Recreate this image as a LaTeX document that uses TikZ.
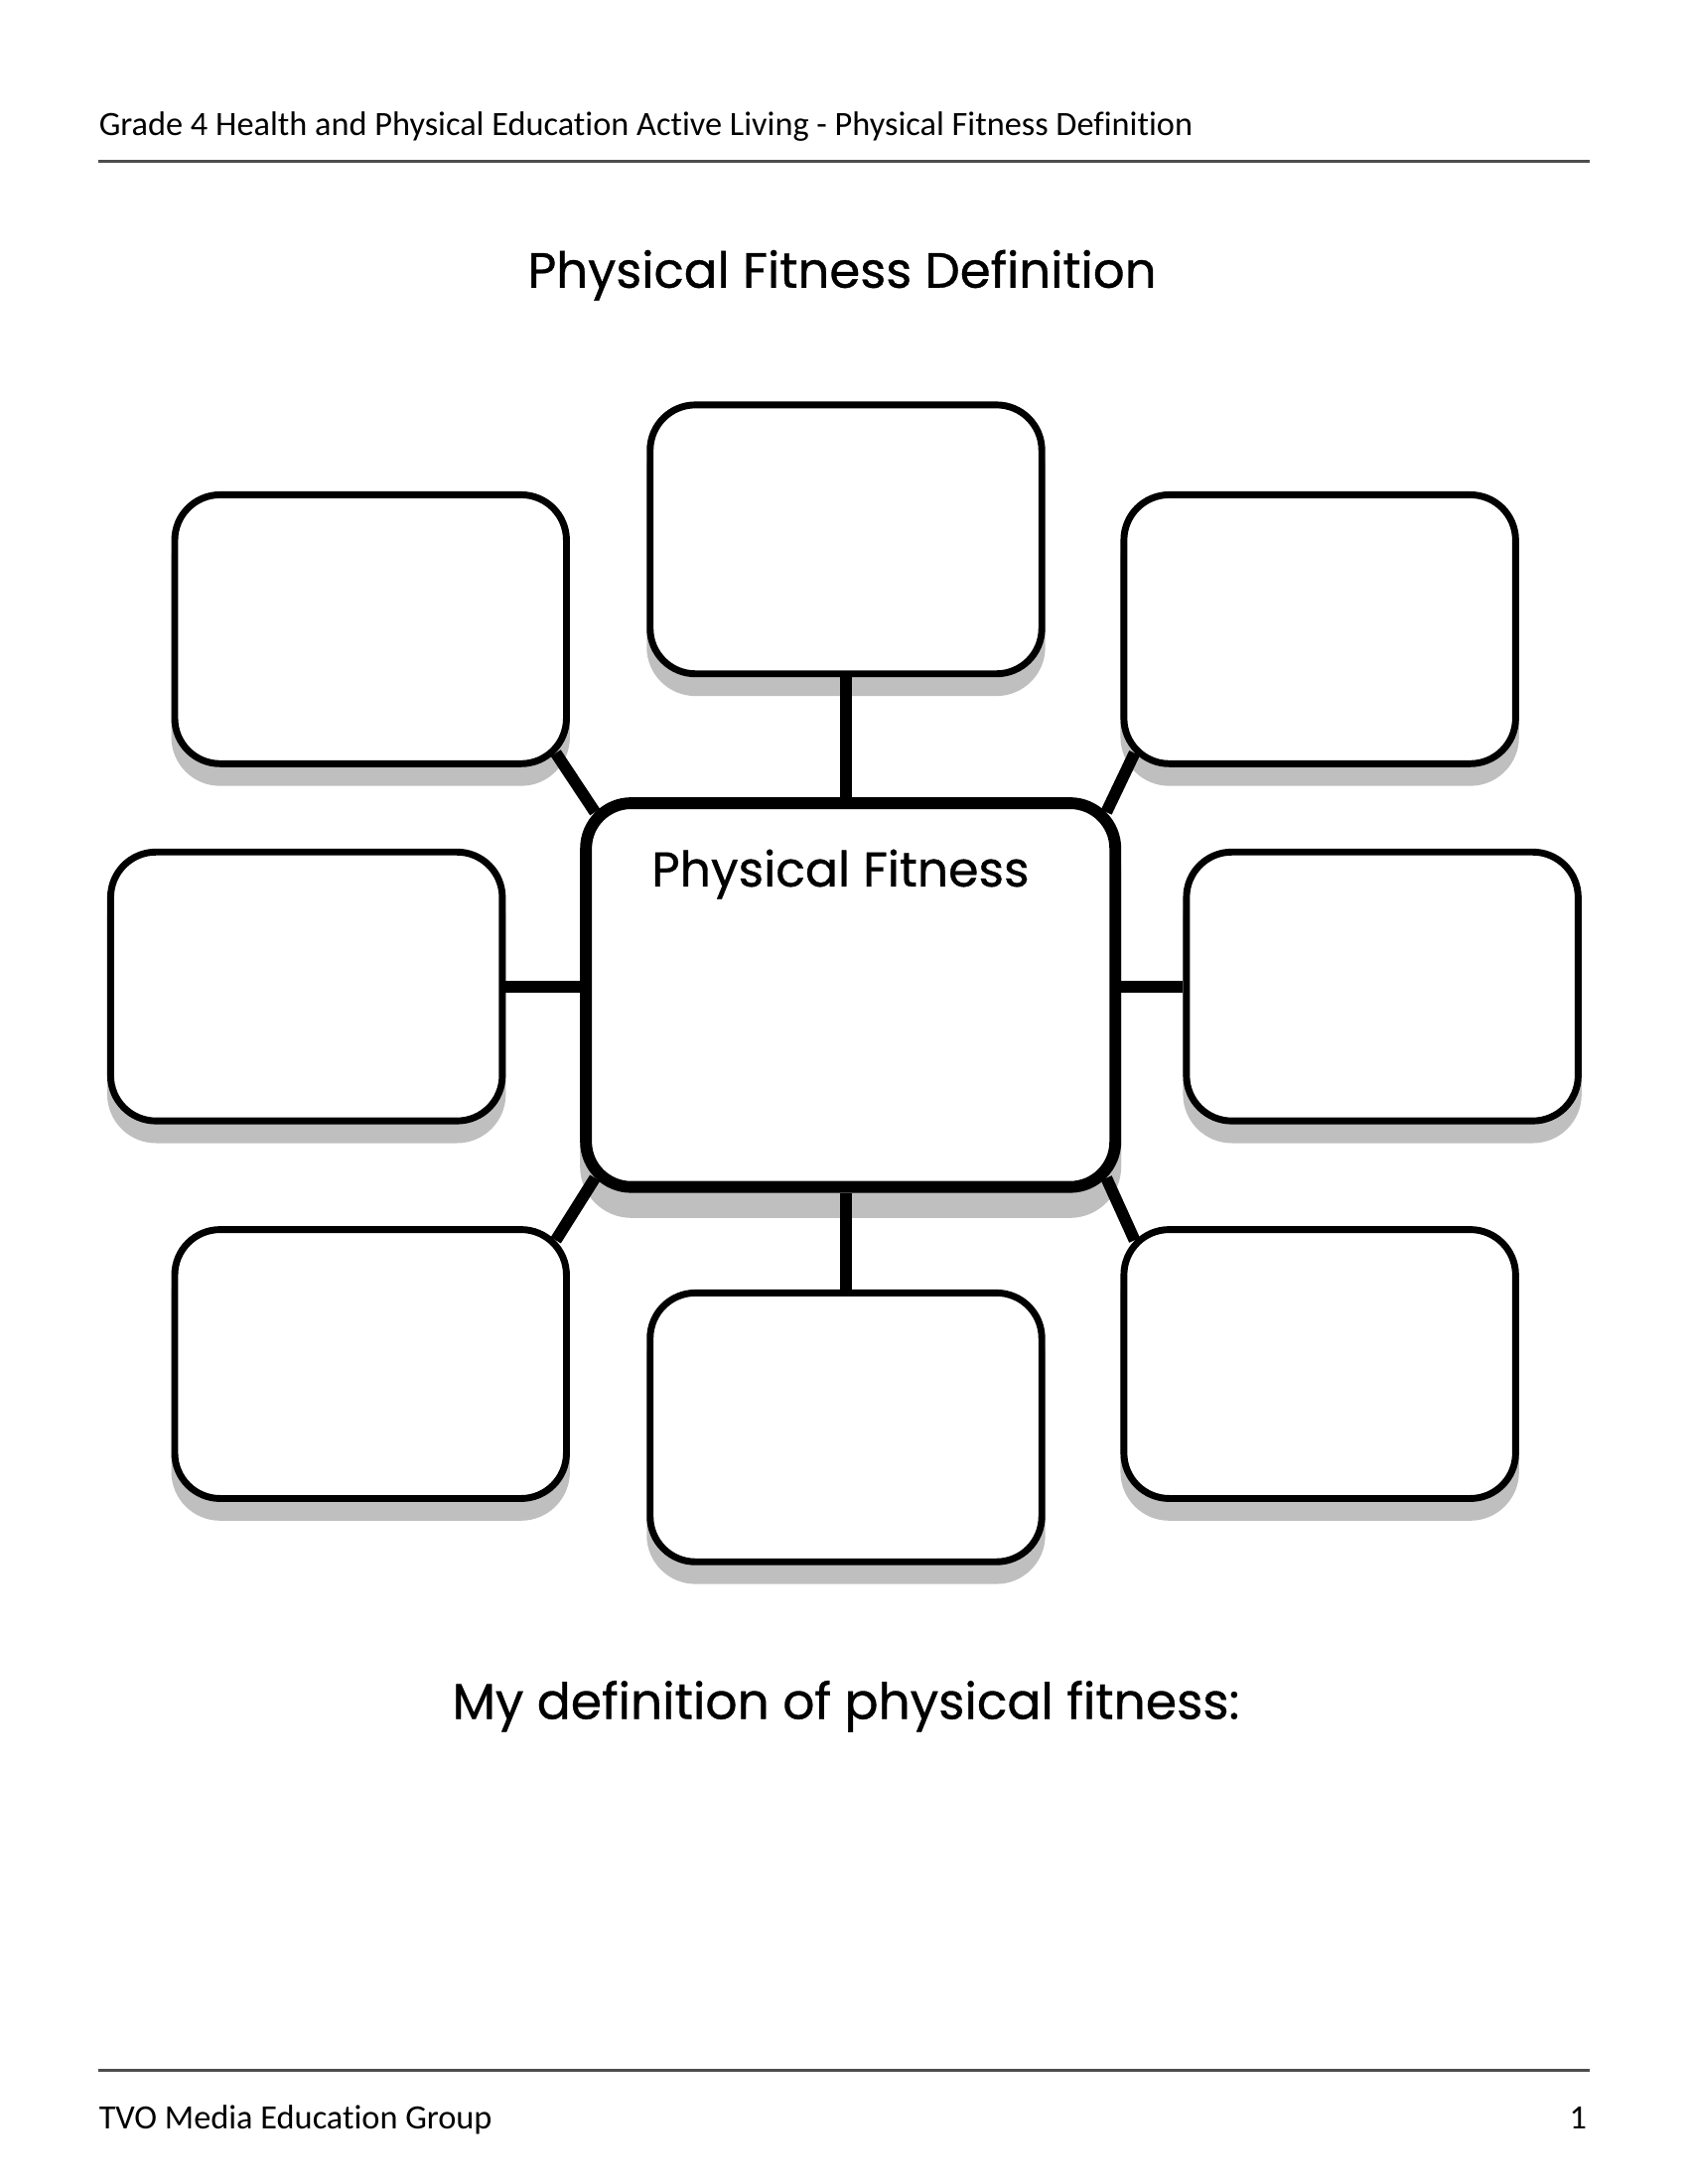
\documentclass[tikz,border=0pt]{standalone}
\usepackage{fontspec}
\setmainfont{Carlito}[Ligatures=NoCommon]
\newfontfamily\titlefont{Poppins}[FakeBold=0.7]
\usetikzlibrary{shadows,calc}
\definecolor{shadowgray}{HTML}{BFBFBF}
\definecolor{rulegray}{HTML}{4D4D4D}

\begin{document}
\begin{tikzpicture}[box/.style={draw,line width=2.5pt,fill=white,rounded corners=0.58cm,
    minimum width=5.01cm,minimum height=3.44cm,
    drop shadow={shadow xshift=0pt,shadow yshift=-0.24cm,opacity=1,fill=shadowgray,draw=shadowgray}},
  hub/.style={box,line width=4.3pt,minimum width=6.77cm,minimum height=4.91cm,
    drop shadow={shadow xshift=0pt,shadow yshift=-0.32cm,opacity=1,fill=shadowgray,draw=shadowgray}},
  link/.style={line width=4.3pt},
  small/.style={inner sep=0pt,font=\fontsize{12.4}{15}\selectfont},
  big/.style={font=\titlefont\fontsize{18}{22}\selectfont,inner sep=0pt}]

	\fill[white] (0,0) rectangle (21.59,-27.94);
	\useasboundingbox (0,0) rectangle (21.59,-27.94);

	% header and footer
	\node[small,anchor=base west] (head) at (1.26,-1.73)
		{Grade 4 Health and Physical Education Active Living - Physical Fitness Definition};
	\draw[rulegray,line width=1.1pt] (1.26,-2.06) -- (20.33,-2.06);
	\draw[rulegray,line width=1.1pt] (1.26,-26.49) -- (20.33,-26.49);
	\node[small,anchor=base west] (org) at (1.26,-27.24) {TVO Media Education Group};
	\node[small,anchor=base east] (page) at (20.30,-27.24) {1};

	\node[big,anchor=base] (title) at (10.77,-3.68) {Physical Fitness Definition};

	% the web
	\node[hub] (C) at (10.88,-12.73) {};
	\node[big,anchor=base,font=\titlefont\fontsize{17.7}{21}\selectfont] (hubtext) at (10.75,-11.34) {Physical Fitness};

	\node[box] (T) at (10.82,-6.90) {};
	\node[box] (UL) at (4.74,-8.05) {};
	\node[box] (UR) at (16.88,-8.05) {};
	\node[box] (ML) at (3.92,-12.62) {};
	\node[box] (MR) at (17.68,-12.62) {};
	\node[box] (LL) at (4.74,-17.45) {};
	\node[box] (LR) at (16.88,-17.45) {};
	\node[box] (B) at (10.82,-18.26) {};

	\draw[link] (T.south) -- (T.south |- C.north);
	\draw[link] (B.north) -- (B.north |- C.south);
	\draw[link] (ML.east) -- (ML.east -| C.west);
	\draw[link] (MR.west) -- (MR.west -| C.east);
	\draw[link] ($(UL.south east)+(-0.18,0.18)$) -- ($(C.north west)+(0.19,-0.19)$);
	\draw[link] ($(UR.south west)+(0.18,0.18)$) -- ($(C.north east)+(-0.19,-0.19)$);
	\draw[link] ($(LL.north east)+(-0.18,-0.18)$) -- ($(C.south west)+(0.19,0.19)$);
	\draw[link] ($(LR.north west)+(0.18,-0.18)$) -- ($(C.south east)+(-0.19,0.19)$);

	\node[big,anchor=base,font=\titlefont\fontsize{18.2}{22}\selectfont] (mydef) at (10.82,-21.99) {My definition of physical fitness:};
\end{tikzpicture}
\end{document}
